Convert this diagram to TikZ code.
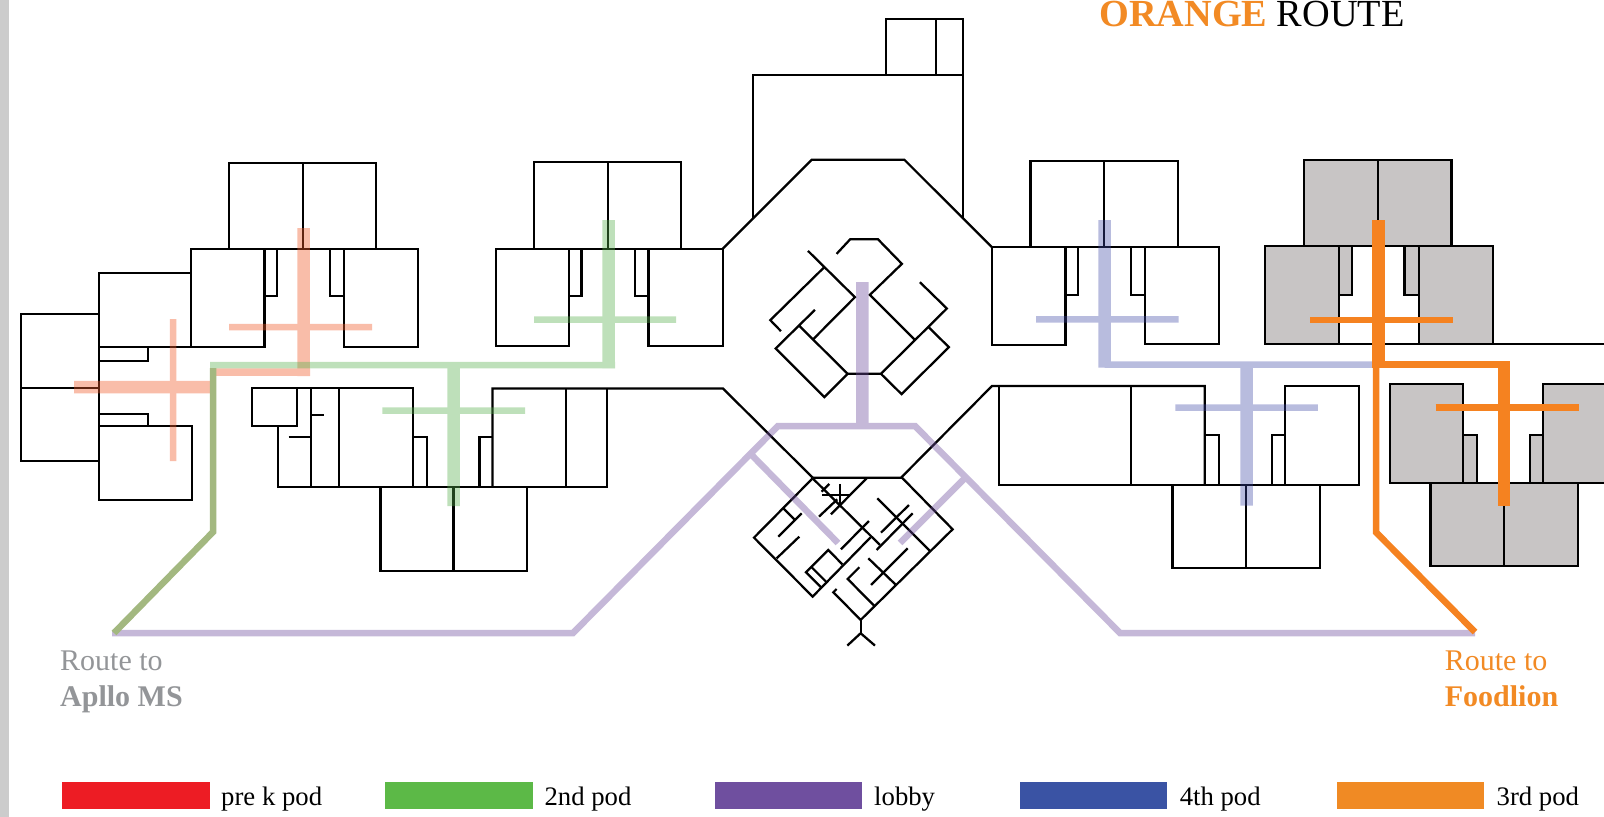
\documentclass[tikz,border=0pt]{standalone}
\usepackage{fontspec}
\setmainfont{Liberation Serif}
\definecolor{greyfill}{HTML}{C8C5C5}
\definecolor{strip}{HTML}{CCCCCC}
\definecolor{salmonroute}{HTML}{F15A29}
\definecolor{greenroute}{HTML}{56B04C}
\definecolor{oliveroute}{HTML}{A3B880}
\definecolor{purpleroute}{HTML}{6F4F9F}
\definecolor{blueroute}{HTML}{3C46A6}
\definecolor{orangeroute}{HTML}{F58220}
\definecolor{orangetext}{HTML}{F28A24}
\definecolor{legred}{HTML}{ED1C24}
\definecolor{leggreen}{HTML}{5CB947}
\definecolor{legpurple}{HTML}{6F4F9F}
\definecolor{legblue}{HTML}{3A53A4}
\definecolor{legorange}{HTML}{F08A24}
\definecolor{greytext}{HTML}{939598}
\tikzset{
  wall/.style={draw=black,line width=0.068cm,line join=miter,fill=none},
  greyroom/.style={draw=black,line width=0.068cm,fill=greyfill},
  fat/.style={line width=0.375cm},
  mid/.style={line width=0.225cm},
  slim/.style={line width=0.195cm},
  swatch/.style={draw=none,anchor=north west,minimum width=4.43cm,minimum height=0.81cm,inner sep=0},
  legtext/.style={anchor=base west,inner sep=0,font=\fontsize{22.8pt}{26pt}\selectfont},
  routelabel/.style={anchor=base west,inner sep=0,font=\fontsize{25.6pt}{29pt}\selectfont}
}
\begin{document}
\begin{tikzpicture}[x=0.03cm,y=-0.03cm]
\useasboundingbox (0,0) rectangle (1604,817);
\clip (0,0) rectangle (1604,817);
\fill[white] (0,0) rectangle (1604,817);
\fill[strip] (0,0) rectangle (9,817);

% grey rooms
\draw[greyroom] (1304.3,160) rectangle (1451.5,246);
\draw[greyroom] (1265.3,246) rectangle (1339.3,343.7);
\draw[greyroom] (1419,246) rectangle (1493,343.7);
\draw[greyroom] (1339.3,246) rectangle (1352,295.3);
\draw[greyroom] (1404.6,246) rectangle (1419,295.3);
\draw[greyroom] (1390,384.3) rectangle (1463,483.3);
\draw[greyroom] (1542.7,384.3) rectangle (1620,483.3);
\draw[greyroom] (1463,435) rectangle (1477,483.3);
\draw[greyroom] (1530.3,435) rectangle (1542.7,483.3);
\draw[greyroom] (1430.5,483.3) rectangle (1577.7,566);
\draw[wall] (1378,160) -- (1378,246) (1504,483.3) -- (1504,566);
\draw[wall] (1265.3,343.7) -- (1604,343.7);

% pre-k block
\draw[wall] (21,314) rectangle (99,461) (21,388) -- (99,388);
\draw[wall] (99,273) rectangle (191,347);
\draw[wall] (99,426) rectangle (192,500);
\draw[wall] (99,361) -- (148,361) -- (148,347);
\draw[wall] (99,414) -- (148,414) -- (148,426);
% top-left pod
\draw[wall] (229,163) rectangle (376,249) (303,163) -- (303,249);
\draw[wall] (191,249) rectangle (264.5,347);
\draw[wall] (344,249) rectangle (418,347);
\draw[wall] (264.5,249) rectangle (277,296);
\draw[wall] (330,249) rectangle (344,296);
\draw[wall] (264.5,249) -- (344,249);
% lower-left pod
\draw[wall] (252,388) rectangle (297,426);
\draw[wall] (278,426) -- (278,487) -- (607,487) -- (607,388.5);
\draw[wall] (252,388) -- (413,388) -- (413,487);
\draw[wall] (311,388) -- (311,487) (339,388) -- (339,487);
\draw[wall] (311,415) -- (324,415) (288.5,437) -- (311,437);
\draw[wall] (413,437) -- (427,437) -- (427,487);
\draw[wall] (492.6,487) -- (492.6,388.5) -- (723,388.5) -- (812.7,477.7);
\draw[wall] (492.6,437) -- (479.6,437) -- (479.6,487);
\draw[wall] (566,388.5) -- (566,487);
\draw[wall] (380.5,487) -- (380.5,571) -- (527,571) -- (527,487) (453.5,487) -- (453.5,571);
% 2nd top pod
\draw[wall] (534.3,162) rectangle (681,248.7) (607.7,162) -- (607.7,248.7);
\draw[wall] (496,248.7) rectangle (569,346);
\draw[wall] (648.6,248.7) rectangle (722.7,346);
\draw[wall] (569,248.7) rectangle (581.6,295.7);
\draw[wall] (635,248.7) rectangle (648.6,295.7);
\draw[wall] (569,248.7) -- (648.6,248.7);
% centre top
\draw[wall] (753.3,218) -- (753.3,75.3) -- (962.7,75.3) -- (962.7,218.7);
\draw[wall] (886,75.3) -- (886,19.3) -- (962.7,19.3) -- (962.7,75.3) (936.3,19.3) -- (936.3,75.3);
\draw[wall] (722.7,248.7) -- (811.7,159.7) -- (904.3,159.7) -- (992,247.3);
% 4th top pod
\draw[wall] (1030.5,160.7) rectangle (1177.8,247.3) (1104,160.7) -- (1104,247.3);
\draw[wall] (992,247.3) rectangle (1065.6,345);
\draw[wall] (1145,247.3) rectangle (1218.8,344);
\draw[wall] (1065.6,247.3) rectangle (1078.3,295.3);
\draw[wall] (1131,247.3) rectangle (1145,295.3);
\draw[wall] (1065.6,247.3) -- (1145,247.3);
% 4th lower pod
\draw[wall] (812.7,477.7) -- (901,477.7) -- (992,386) -- (1204.8,386) -- (1204.8,485);
\draw[wall] (998.7,386) -- (998.7,485) -- (1358.8,485) -- (1358.8,386) -- (1285.2,386) -- (1285.2,485);
\draw[wall] (1131,386) -- (1131,485);
\draw[wall] (1204.8,435.3) -- (1218.8,435.3) -- (1218.8,485);
\draw[wall] (1285.2,435.3) -- (1271.7,435.3) -- (1271.7,485);
\draw[wall] (1172.6,485) -- (1172.6,568.3) -- (1319.8,568.3) -- (1319.8,485) (1246.2,485) -- (1246.2,568.3);

% upper diamond, coordinates read at 3x
\begin{scope}[shift={(700,0)},x=0.01cm,y=-0.01cm]
\draw[wall] (410,762) -- (451,718) -- (534,718) -- (606,792) -- (510,885) -- (645,1020);
\draw[wall] (660,847) -- (741,926) -- (543,1122) -- (443,1122);
\draw[wall] (543,1122) -- (605,1183) -- (747,1042) -- (685,981);
\draw[wall] (324,753) -- (465,892) -- (340,1018);
\draw[wall] (372,803) -- (211,961) -- (243,994);
\draw[wall] (345,930) -- (227,1046) -- (373,1192) -- (443,1122) -- (298,978);
\end{scope}
% lower diamond, left half, coordinates read at 3x
\begin{scope}[shift={(750,470)},x=0.01cm,y=-0.01cm]
\draw[wall] (188,25) -- (12,203) -- (188,380) -- (362,202);
\draw[wall] (188,25) -- (390,225);
\draw[wall] (350,25) -- (243,133);
\draw[wall] (270,42) -- (270,108) (217,75) -- (299,75);
\draw[wall] (238,42) -- (215,65) (207,140) -- (262,88);
\draw[wall] (100,115) -- (135,150) (85,200) -- (155,130);
\draw[wall] (80,265) -- (148,200);
\draw[wall] (273,238) -- (357,153);
\draw[wall] (213,352) -- (168,307) -- (235,240) -- (277,283);
\draw[wall] (185,292) -- (228,335);
\end{scope}
% lower diamond, right half, coordinates read at 3x
\begin{scope}[shift={(830,470)},x=0.01cm,y=-0.01cm]
\draw[wall] (215,22) -- (368,178) -- (92,450) -- (10,367) -- (20,357);
\draw[wall] (142,85) -- (300,243);
\draw[wall] (153,188) -- (237,105) (140,240) -- (248,130);
\draw[wall] (115,265) -- (198,345) (123,345) -- (233,235);
\draw[wall] (88,292) -- (53,327) -- (135,410);
\draw[wall] (92,450) -- (92,490);
\draw[wall] (52,527) -- (92,490) -- (135,527);
\end{scope}

% translucent routes
\begin{scope}[transparency group,opacity=0.4]
\draw[salmonroute,fat] (303.7,228) -- (303.7,376);
\draw[salmonroute,slim] (229,327) -- (372,327);
\draw[salmonroute,fat] (74,387) -- (210,387);
\draw[salmonroute,slim] (173,319) -- (173,461);
\draw[salmonroute,mid] (310,372) -- (210,372);
\end{scope}
\begin{scope}[transparency group,opacity=0.38]
\draw[greenroute,fat] (608.7,220) -- (608.7,368);
\draw[greenroute,slim] (534,319.5) -- (676,319.5);
\draw[greenroute,slim] (615,365) -- (210,365);
\draw[greenroute,fat] (453.7,365) -- (453.7,506);
\draw[greenroute,slim] (382.4,410.5) -- (525,410.5);
\end{scope}
\begin{scope}[transparency group,opacity=0.4]
\draw[purpleroute,slim] (112,633) -- (573,633) -- (778,426) -- (915,426) -- (1120,633) -- (1475,633);
\draw[purpleroute,fat] (862.4,282) -- (862.4,426);
\draw[purpleroute,slim] (751.7,455) -- (838,543);
\draw[purpleroute,slim] (965,478) -- (900,543);
\end{scope}
\begin{scope}[transparency group,opacity=0.36]
\draw[blueroute,fat] (1104.5,220) -- (1104.5,367.7);
\draw[blueroute,slim] (1372,364.7) -- (1104.5,364.7);
\draw[blueroute,slim] (1036,319.3) -- (1178.6,319.3);
\draw[blueroute,fat] (1246.5,365) -- (1246.5,505.7);
\draw[blueroute,slim] (1175.4,407.7) -- (1317.8,407.7);
\end{scope}
\draw[oliveroute,slim] (213,368) -- (213,532) -- (114,633);
% opaque orange routes
\draw[orangeroute,fat] (1378.3,220) -- (1378.3,368);
\draw[orangeroute,slim] (1310,320) -- (1452.7,320);
\draw[orangeroute,slim] (1372,364.7) -- (1510,364.7);
\draw[orangeroute,fat] (1504,361.6) -- (1504,505.7);
\draw[orangeroute,slim] (1435.6,407.7) -- (1578.5,407.7);
\draw[orangeroute,slim] (1376,365) -- (1376,532.3) -- (1475,632);

% labels
\node[anchor=base west,inner sep=0,font=\fontsize{32.7pt}{36pt}\selectfont] (title) at (1099,26.6) {\textcolor{orangetext}{\textbf{ORANGE}} ROUTE};
\node[routelabel,text=greytext] (apollo1) at (60,670) {Route to};
\node[routelabel,text=greytext] (apollo2) at (60,706) {\textbf{Apllo MS}};
\node[routelabel,text=orangetext] (food1) at (1444.6,670) {Route to};
\node[routelabel,text=orangetext] (food2) at (1444.6,706) {\textbf{Foodlion}};

% legend
\node[swatch,fill=legred] (s1) at (62,781.7) {};
\node[swatch,fill=leggreen] (s2) at (385,781.7) {};
\node[swatch,fill=legpurple] (s3) at (714.5,781.7) {};
\node[swatch,fill=legblue] (s4) at (1019.5,781.7) {};
\node[swatch,fill=legorange] (s5) at (1336.4,781.7) {};
\node[legtext] (t1) at (221,805) {pre k pod};
\node[legtext] (t2) at (544.4,805) {2nd pod};
\node[legtext] (t3) at (874,805) {lobby};
\node[legtext] (t4) at (1179.5,805) {4th pod};
\node[legtext] (t5) at (1496.4,805) {3rd pod};
\end{tikzpicture}
\end{document}
